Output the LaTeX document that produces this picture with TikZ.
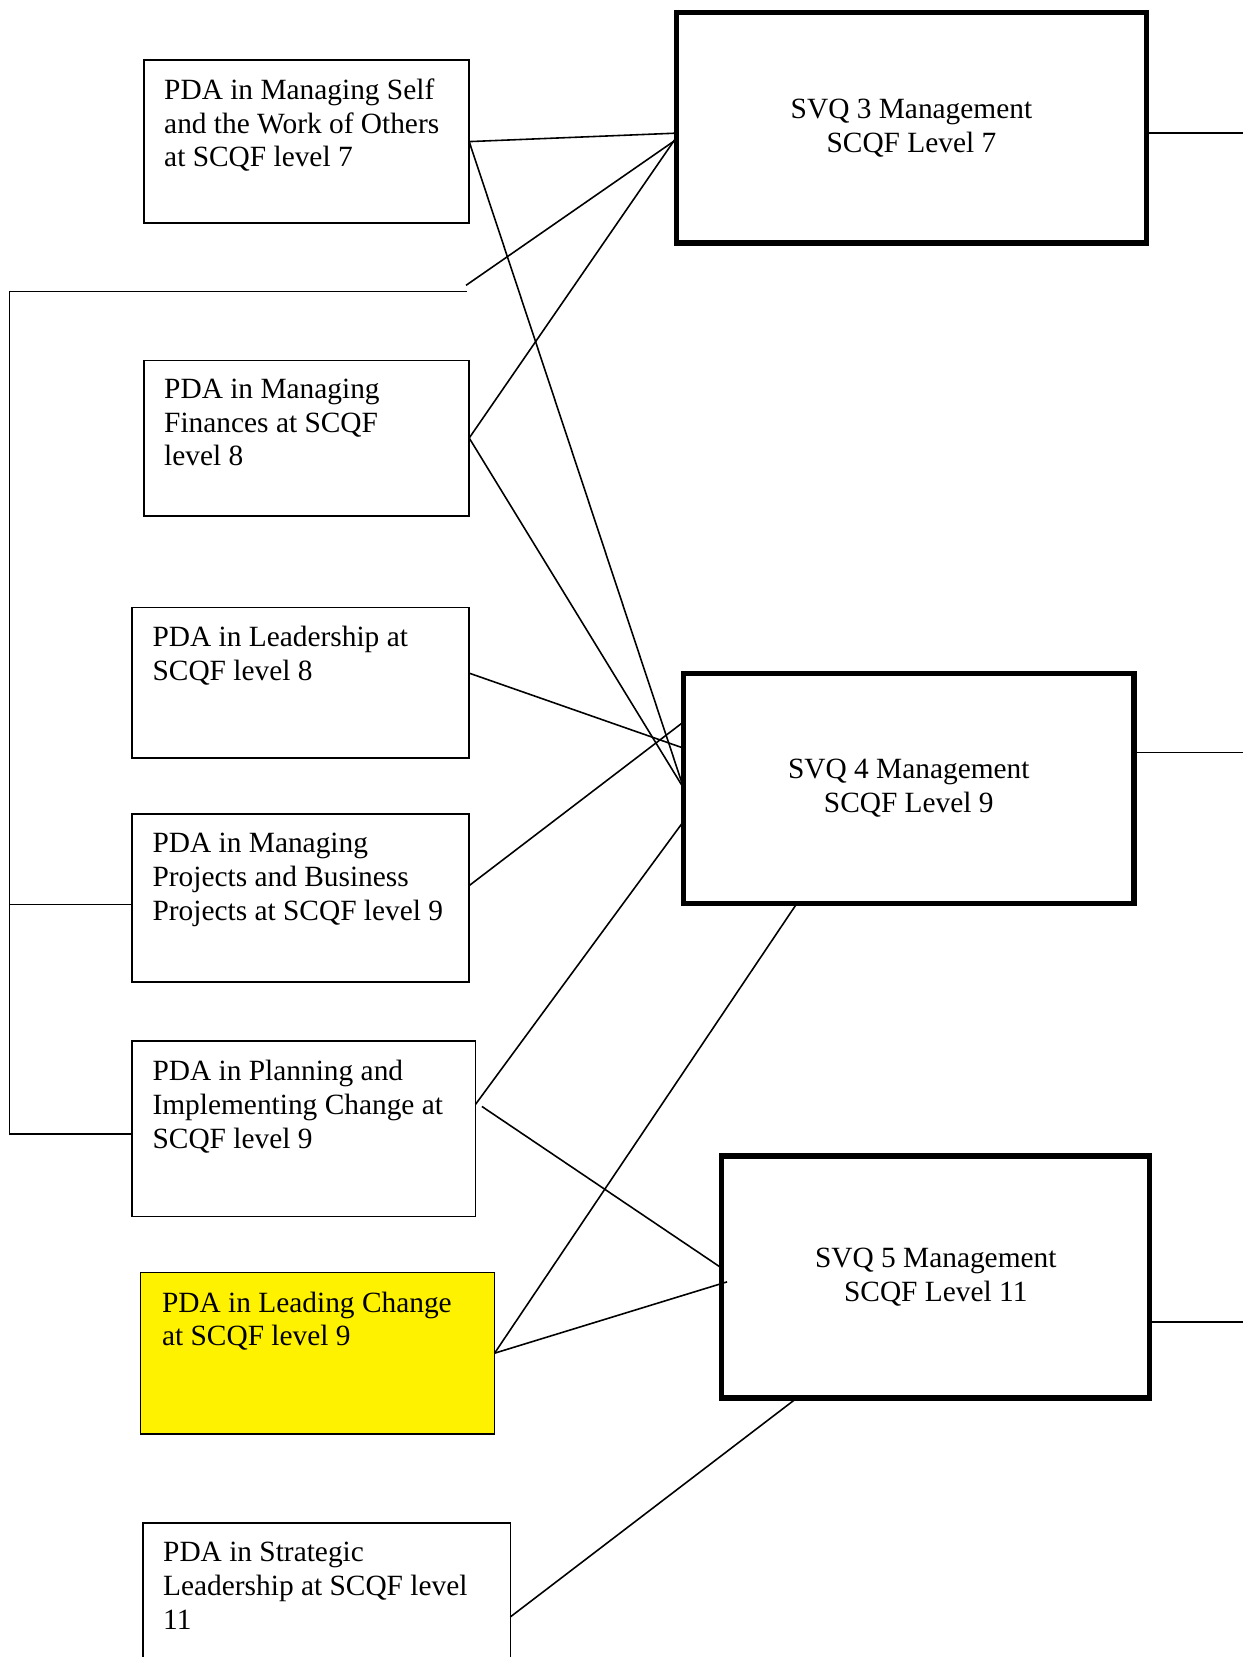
\documentclass[tikz,border=0pt]{standalone}
\usepackage{fontspec}
\setmainfont{Liberation Serif}
\begin{document}
\begin{tikzpicture}[x={(0.5pt,0)}, y={(0,-0.5pt)},
  pda/.style={draw, line width=0.8pt, inner sep=0pt, outer sep=0pt},
  svq/.style={draw, line width=2.5pt, inner sep=0pt, outer sep=0pt, align=center,
    font=\fontsize{13.9pt}{16pt}\selectfont},
  txt/.style={anchor=north west, inner sep=0pt, align=left,
    font=\fontsize{13.9pt}{16pt}\selectfont},
  link/.style={line width=0.75pt}]
\clip (0,0) rectangle (1176,1568);
\fill[white] (0,0) rectangle (1176,1568);

% left boxes
\node[pda, minimum width=154pt, minimum height=77pt] (b1) at (290,134) {};
\node[pda, minimum width=154pt, minimum height=73.5pt] (b2) at (290,414.5) {};
\node[pda, minimum width=159.5pt, minimum height=71pt] (b3) at (284.5,646) {};
\node[pda, minimum width=159.5pt, minimum height=79.5pt] (b4) at (284.5,849.5) {};
\node[pda, minimum width=162.5pt, minimum height=83pt] (b5) at (287.5,1068) {};
\node[pda, fill=yellow, minimum width=167.5pt, minimum height=76.5pt] (b6) at (300.5,1280.5) {};
\node[pda, minimum width=174pt, minimum height=79.5pt] (b7) at (309,1520.5) {};

\node[txt] (t1) at (155,74) {PDA in Managing Self\\and the Work of Others\\at SCQF level 7};
\node[txt] (t2) at (155,358) {PDA in Managing\\Finances at SCQF\\level 8};
\node[txt] (t3) at (144,592) {PDA in Leadership at\\SCQF level 8};
\node[txt] (t4) at (144,788) {PDA in Managing\\Projects and Business\\Projects at SCQF level 9};
\node[txt] (t5) at (144,1003) {PDA in Planning and\\Implementing Change at\\SCQF level 9};
\node[txt] (t6) at (153,1222) {PDA in Leading Change\\at SCQF level 9};
\node[txt] (t7) at (154,1459) {PDA in Strategic\\Leadership at SCQF level\\11};

% right boxes
\node[svq, minimum width=222.5pt, minimum height=109pt] (s3) at (862.5,121) {SVQ 3 Management\\SCQF Level 7};
\node[svq, minimum width=213pt, minimum height=109pt] (s4) at (860,746) {SVQ 4 Management\\SCQF Level 9};
\node[svq, minimum width=202.5pt, minimum height=114.5pt] (s5) at (885.5,1208.5) {SVQ 5 Management\\SCQF Level 11};

% bracket
\coordinate (bt) at (442,276);
\coordinate (bd) at (441,270);
\coordinate (bl) at (9,276);
\draw[link] (bt) -- (bl) |- ([yshift=-2.5pt]b5.west);
\draw[link] ([yshift=-3.25pt]b4.west) -- ++(-116,0);
\draw[link] (bd) -- ([yshift=-5.5pt]s3.west);

% connectors
\draw[link] (b1.east) -- ([yshift=-2.5pt]s3.west);
\draw[link] (b1.east) -- (s4.west);
\draw[link] (b2.east) -- ([yshift=-4.5pt]s3.west);
\draw[link] (b2.east) -- (s4.west);
\draw[link] ([yshift=4.5pt]b3.east) -- ([yshift=19pt]s4.west);
\draw[link] ([yshift=5.75pt]b4.east) -- ([yshift=31.5pt]s4.west);
\draw[link] ([yshift=11.5pt]b5.east) -- ([yshift=-15.5pt]s4.west);
\draw[link] ([shift={(3pt,10.5pt)}]b5.east) -- ([yshift=4.25pt]s5.west);
\draw[link] (b6.east) -- ([shift={(2.5pt,-2.25pt)}]s5.west);
\draw[link] (b6.east) -- ([xshift=-53pt]s4.south);
\draw[link] ([yshift=-4.75pt]b7.east) -- ([xshift=-65.75pt]s5.south);

% outgoing lines on the right
\draw[link] ([yshift=-2.5pt]s3.east) -- ++(100,0);
\draw[link] ([yshift=17pt]s4.east) -- ++(110,0);
\draw[link] ([yshift=-21.25pt]s5.east) -- ++(100,0);
\end{tikzpicture}
\end{document}
